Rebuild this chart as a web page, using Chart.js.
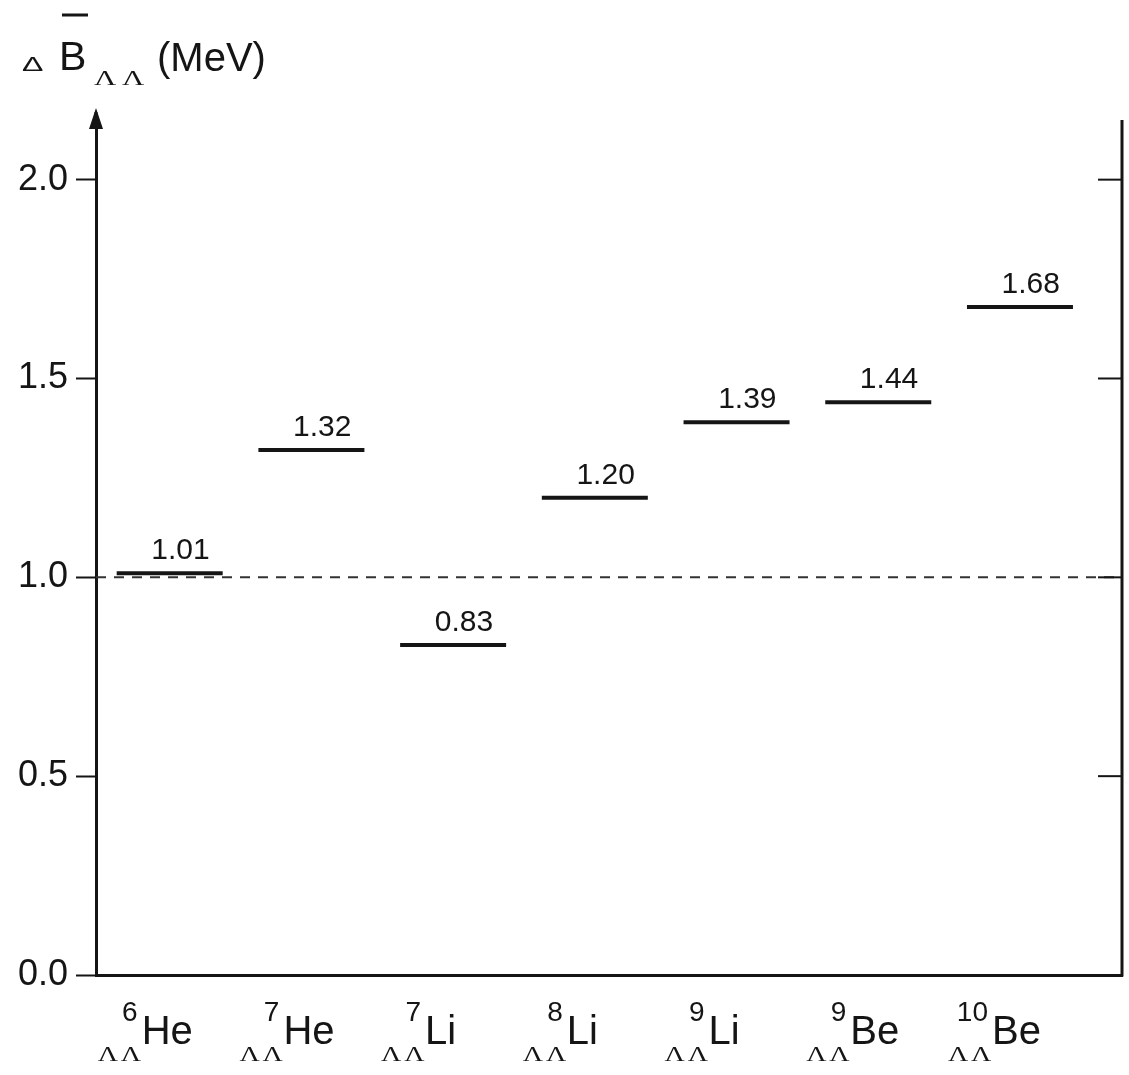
<!DOCTYPE html>
<html>
<head>
<meta charset="utf-8">
<script src="https://cdn.jsdelivr.net/npm/chart.js@4.4.0/dist/chart.umd.min.js"></script>
<style>
    html, body { margin: 0; padding: 0; background: #fff; }
    #wrap { position: relative; width: 1129px; height: 1075px; }
</style>
</head>
<body>
<div id="wrap"><canvas id="chart"></canvas></div>
<script>
// Nuclides along the x axis (mass number + element, all double-Lambda)
const massNumbers = ['6', '7', '7', '8', '9', '9', '10'];
const elements = ['He', 'He', 'Li', 'Li', 'Li', 'Be', 'Be'];

// Delta B_LL values in MeV
const deltaB = [1.01, 1.32, 0.83, 1.20, 1.39, 1.44, 1.68];

// Y axis ticks and the dashed reference level
const yTicks = [0.0, 0.5, 1.0, 1.5, 2.0];
const referenceLevel = 1.0;

const SANS = "'Liberation Sans', Arial, Helvetica, sans-serif";
const SERIF = "'Liberation Serif', 'DejaVu Serif', serif";
const INK = '#151515';
const HALF_SEG = 53;

// Wide, squat text (the Lambda subscripts and the small Delta)
function wideText(ctx, text, x, y, font, stretch, spacing) {
    ctx.save();
    ctx.translate(x, y);
    ctx.scale(stretch, 1);
    ctx.font = font;
    ctx.letterSpacing = spacing || '0px';
    ctx.fillText(text, 0, 0);
    ctx.restore();
}

// Draws the reference line, right axis, arrow, title and all labels
const annotate = {
    id: 'annotate',
    beforeDatasetsDraw(chart) {
        const { ctx, chartArea, scales: { y } } = chart;
        const py = y.getPixelForValue(referenceLevel);
        ctx.save();
        ctx.setLineDash([10, 8]);
        ctx.lineWidth = 2;
        ctx.strokeStyle = '#333';
        ctx.beginPath();
        ctx.moveTo(chartArea.left, py);
        ctx.lineTo(chartArea.right, py);
        ctx.stroke();
        ctx.restore();
    },
    afterDraw(chart) {
        const { ctx, chartArea, scales: { x, y } } = chart;
        ctx.save();
        ctx.strokeStyle = INK;
        ctx.fillStyle = INK;

        // right axis with inward ticks
        ctx.lineWidth = 3;
        ctx.beginPath();
        ctx.moveTo(chartArea.right, chartArea.top);
        ctx.lineTo(chartArea.right, chartArea.bottom + 1.5);
        ctx.stroke();
        ctx.lineWidth = 2;
        yTicks.forEach(v => {
            if (v === 0) return;
            const py = y.getPixelForValue(v);
            ctx.beginPath();
            ctx.moveTo(chartArea.right - 24, py);
            ctx.lineTo(chartArea.right, py);
            ctx.stroke();
        });

        // arrow on top of the y axis
        const ax = chartArea.left;
        ctx.lineWidth = 3;
        ctx.beginPath();
        ctx.moveTo(ax, chartArea.top);
        ctx.lineTo(ax, chartArea.top - 8);
        ctx.stroke();
        ctx.beginPath();
        ctx.moveTo(ax, chartArea.top - 12);
        ctx.lineTo(ax - 7, chartArea.top + 9);
        ctx.lineTo(ax + 7, chartArea.top + 9);
        ctx.closePath();
        ctx.fill();

        // axis title: Delta B-bar_LL (MeV)
        ctx.textBaseline = 'alphabetic';
        ctx.textAlign = 'left';
        wideText(ctx, '\u0394', 22, 71, `20px ${SANS}`, 1.6);
        ctx.font = `41px ${SANS}`;
        ctx.fillText('B', 59, 70);
        ctx.lineWidth = 3;
        ctx.beginPath();
        ctx.moveTo(62, 15);
        ctx.lineTo(88, 15);
        ctx.stroke();
        wideText(ctx, '\u039B\u039B', 94, 85, `22px ${SERIF}`, 1.4, '4px');
        ctx.font = `40px ${SANS}`;
        ctx.fillText('(MeV)', 157, 71);

        // value labels above each level
        ctx.font = `30px ${SANS}`;
        ctx.textAlign = 'right';
        deltaB.forEach((v, i) => {
            const px = x.getPixelForValue(i + 1);
            const py = y.getPixelForValue(v);
            ctx.fillText(v.toFixed(2), px + HALF_SEG - 13, py - 14);
        });

        // nuclide labels under the x axis
        elements.forEach((el, i) => {
            const left = x.getPixelForValue(i + 1) - 28;
            ctx.textAlign = 'left';
            ctx.font = `40px ${SANS}`;
            ctx.fillText(el, left, 1044);
            ctx.textAlign = 'right';
            ctx.font = `28px ${SANS}`;
            ctx.fillText(massNumbers[i], left - 4, 1021);
            ctx.textAlign = 'left';
            wideText(ctx, '\u039B\u039B', left - 44, 1061, `20px ${SERIF}`, 1.4, '2px');
        });
        ctx.restore();
    }
};

const ctx = document.getElementById('chart').getContext('2d');
const levelChart = new Chart(ctx, {
    type: 'scatter',
    data: {
        datasets: [{
            data: deltaB.map((v, i) => ({ x: i + 1, y: v })),
            pointStyle: 'line',
            pointRadius: HALF_SEG,
            pointHoverRadius: HALF_SEG,
            borderWidth: 4,
            borderColor: INK,
            showLine: false,
            clip: false
        }]
    },
    options: {
        responsive: true,
        maintainAspectRatio: false,
        animation: false,
        events: [],
        layout: { autoPadding: false, padding: { top: 120, right: 7, left: 0, bottom: 0 } },
        plugins: {
            legend: { display: false },
            tooltip: { enabled: false }
        },
        scales: {
            x: {
                type: 'linear',
                min: 0.48,
                max: 7.72,
                ticks: { display: false },
                grid: { display: false },
                border: { display: true, color: INK, width: 3 },
                afterFit: scale => { scale.height = 100; }
            },
            y: {
                min: 0,
                max: 2.15,
                afterBuildTicks: scale => {
                    scale.ticks = yTicks.map(v => ({ value: v }));
                },
                ticks: {
                    color: INK,
                    padding: 8,
                    font: { family: SANS, size: 36 },
                    callback: value => value.toFixed(1)
                },
                grid: {
                    drawOnChartArea: false,
                    drawTicks: true,
                    tickLength: 20,
                    tickWidth: 2,
                    tickColor: INK
                },
                border: { display: true, color: INK, width: 3 },
                afterFit: scale => { scale.width = 96; }
            }
        }
    },
    plugins: [annotate]
});
</script>
</body>
</html>
